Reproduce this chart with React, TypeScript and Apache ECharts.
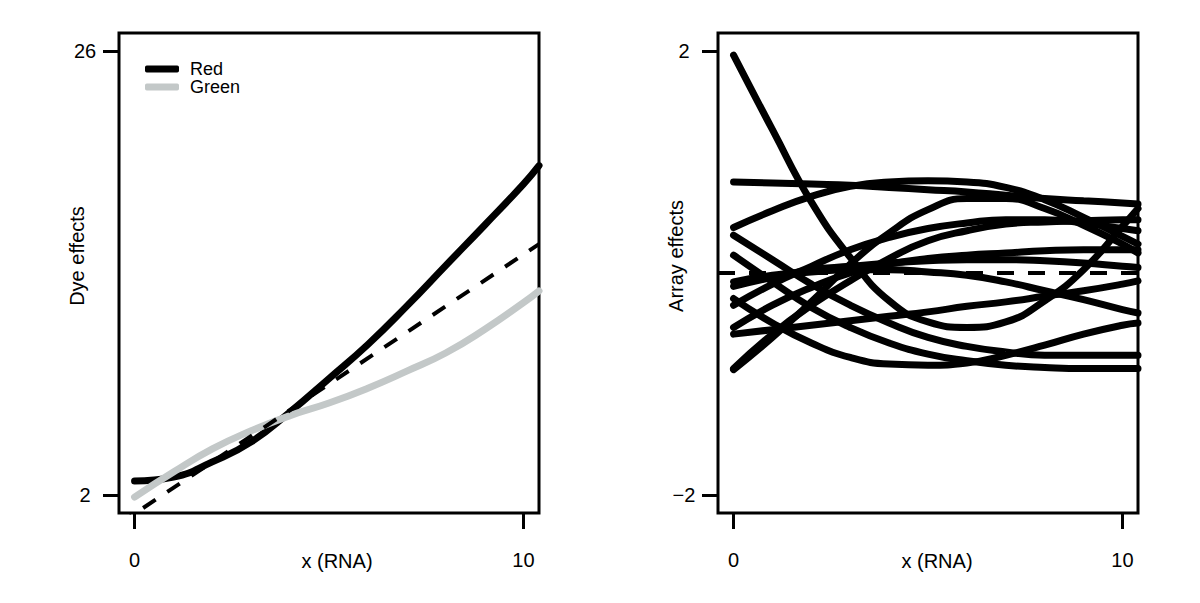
import React, { useEffect, useRef } from "react";
import * as echarts from "echarts";

// x positions where the curves were read (x = RNA)
const xPoints = [0, 1, 2, 3, 4, 5, 6, 7, 8, 9, 10, 10.4];

// Left panel: dye effects
const redValues = [2.77, 2.98, 3.8, 4.88, 6.5, 8.3, 10.14, 12.21, 14.4, 16.58, 18.8, 19.8];
const greenValues = [1.9, 3.25, 4.5, 5.48, 6.3, 6.98, 7.78, 8.7, 9.68, 10.95, 12.4, 13.03];
const dyeRefX = [-0.4, 10.4];
const dyeRefY = [0.44, 15.56];

// Right panel: array effects (one array per curve)
const arrayCurveA = [1.96, 1.29, 0.64, 0.14, -0.25, -0.44, -0.49, -0.44, -0.25, 0.03, 0.42, 0.58];
const arrayCurveB = [0.82, 0.81, 0.8, 0.79, 0.77, 0.75, 0.73, 0.7, 0.67, 0.65, 0.63, 0.62];
const arrayCurveC = [0.41, 0.56, 0.69, 0.78, 0.82, 0.83, 0.82, 0.77, 0.66, 0.5, 0.33, 0.26];
const arrayCurveD = [-0.87, -0.58, -0.26, 0.08, 0.36, 0.57, 0.67, 0.67, 0.58, 0.43, 0.26, 0.18];
const arrayCurveE = [-0.86, -0.55, -0.29, -0.07, 0.13, 0.29, 0.38, 0.44, 0.46, 0.47, 0.48, 0.48];
const arrayCurveF = [-0.49, -0.29, -0.13, 0.0, 0.08, 0.13, 0.16, 0.18, 0.2, 0.21, 0.21, 0.21];
const arrayCurveG = [0.34, 0.12, -0.1, -0.29, -0.45, -0.58, -0.66, -0.71, -0.74, -0.74, -0.74, -0.74];
const arrayCurveH = [0.16, -0.08, -0.31, -0.49, -0.63, -0.73, -0.79, -0.83, -0.85, -0.86, -0.86, -0.86];
const arrayCurveI = [-0.23, -0.45, -0.63, -0.76, -0.82, -0.83, -0.81, -0.74, -0.65, -0.55, -0.47, -0.45];
const arrayCurveJ = [-0.55, -0.51, -0.47, -0.43, -0.39, -0.35, -0.3, -0.26, -0.21, -0.16, -0.1, -0.07];
const arrayCurveK = [-0.08, -0.02, 0.01, 0.03, 0.03, 0.01, -0.02, -0.08, -0.16, -0.24, -0.33, -0.36];
const arrayCurveL = [-0.12, -0.04, 0.03, 0.06, 0.09, 0.11, 0.12, 0.12, 0.11, 0.09, 0.06, 0.05];
const arrayCurveM = [-0.29, -0.1, 0.06, 0.21, 0.32, 0.4, 0.45, 0.48, 0.48, 0.45, 0.4, 0.38];
const arrayCurves = [
  arrayCurveA, arrayCurveB, arrayCurveC, arrayCurveD, arrayCurveE, arrayCurveF, arrayCurveG,
  arrayCurveH, arrayCurveI, arrayCurveJ, arrayCurveK, arrayCurveL, arrayCurveM,
];
const arrayRefX = [-0.4, 10.4];
const arrayRefY = [0, 0];

// ticks
const xTicks = [0, 10];
const dyeTicks = [2, 26];
const arrayTicks = [-2, 2];

const FONT = "'Liberation Sans', Arial, Helvetica, sans-serif";
const FS = 20;
const LEGEND_FS = 18;
const GREEN = "#c3c8c8";
const LW = 7;

const zip = (xs: number[], ys: number[]) => xs.map((x, i) => [x, ys[i]]);
const fmt = (v: number) => (v < 0 ? "\u2212" + Math.abs(v) : String(v));

function xAxisFor(gridIndex: number) {
  return {
    type: "value",
    gridIndex,
    min: -0.4,
    max: 10.4,
    axisLine: { show: false, onZero: false },
    splitLine: { show: false },
    axisTick: { show: true, customValues: xTicks, length: 16, lineStyle: { color: "#000", width: 3 } },
    axisLabel: {
      show: true,
      customValues: xTicks,
      formatter: fmt,
      margin: 37,
      color: "#000",
      fontSize: FS,
      fontFamily: FONT,
    },
  };
}

function yAxisFor(gridIndex: number, min: number, max: number, ticks: number[]) {
  return {
    type: "value",
    gridIndex,
    min,
    max,
    axisLine: { show: false, onZero: false },
    splitLine: { show: false },
    axisTick: { show: true, customValues: ticks, length: 16, lineStyle: { color: "#000", width: 3 } },
    axisLabel: {
      show: true,
      customValues: ticks,
      formatter: fmt,
      margin: 34,
      align: "center",
      color: "#000",
      fontSize: FS,
      fontFamily: FONT,
    },
  };
}

export default function App() {
  const ref = useRef<HTMLDivElement>(null);
  useEffect(() => {
    if (!ref.current) return;
    document.body.style.margin = "0";
    const chart = echarts.init(ref.current, null, { renderer: "svg" });
    const lineBase = {
      type: "line",
      showSymbol: false,
      smooth: true,
      silent: true,
      clip: true,
      emphasis: { disabled: true },
    };
    const series: any[] = [
      {
        ...lineBase,
        name: "Red",
        xAxisIndex: 0,
        yAxisIndex: 0,
        color: "#000",
        data: zip(xPoints, redValues),
        lineStyle: { color: "#000", width: LW, cap: "round" },
        z: 3,
      },
      {
        ...lineBase,
        name: "Green",
        xAxisIndex: 0,
        yAxisIndex: 0,
        color: GREEN,
        data: zip(xPoints, greenValues),
        lineStyle: { color: GREEN, width: LW, cap: "round" },
        z: 4,
      },
      {
        ...lineBase,
        name: "Dye reference",
        smooth: false,
        xAxisIndex: 0,
        yAxisIndex: 0,
        color: "#000",
        data: zip(dyeRefX, dyeRefY),
        lineStyle: { color: "#000", width: 4, type: [15, 14], cap: "butt" },
        z: 5,
      },
      ...arrayCurves.map((c, i) => ({
        ...lineBase,
        name: "Array " + (i + 1),
        xAxisIndex: 1,
        yAxisIndex: 1,
        color: "#000",
        data: zip(xPoints, c),
        lineStyle: { color: "#000", width: LW, cap: "round" },
        z: 3,
      })),
      {
        ...lineBase,
        name: "Array reference",
        smooth: false,
        xAxisIndex: 1,
        yAxisIndex: 1,
        color: "#000",
        data: zip(arrayRefX, arrayRefY),
        lineStyle: { color: "#000", width: 4, type: [17, 14], cap: "butt" },
        z: 2,
      },
    ];

    const titleText = (text: string, x: number, y: number, rotation = 0) => ({
      type: "text",
      x,
      y,
      rotation,
      silent: true,
      style: {
        text,
        fill: "#000",
        fontSize: FS,
        fontFamily: FONT,
        align: "center",
        verticalAlign: "middle",
      },
    });

    chart.setOption({
      animation: false,
      backgroundColor: "#fff",
      grid: [
        { left: 119, top: 33, width: 420, height: 480, show: true, borderColor: "#000", borderWidth: 3, backgroundColor: "transparent" },
        { left: 718, top: 33, width: 420, height: 480, show: true, borderColor: "#000", borderWidth: 3, backgroundColor: "transparent" },
      ],
      xAxis: [xAxisFor(0), xAxisFor(1)],
      yAxis: [yAxisFor(0, 1.04, 26.96, dyeTicks), yAxisFor(1, -2.16, 2.16, arrayTicks)],
      legend: {
        data: ["Red", "Green"],
        orient: "vertical",
        left: 145,
        top: 60,
        padding: 0,
        itemWidth: 34,
        itemHeight: 7,
        itemGap: 0,
        icon: "roundRect",
        selectedMode: false,
        textStyle: { color: "#000", fontSize: LEGEND_FS, fontFamily: FONT, padding: [0, 0, 0, 6] },
      },
      graphic: [
        titleText("x (RNA)", 337, 561),
        titleText("Dye effects", 77, 256, Math.PI / 2),
        titleText("x (RNA)", 937, 561),
        titleText("Array effects", 676, 256, Math.PI / 2),
      ],
      series,
    });
    return () => chart.dispose();
  }, []);
  return <div ref={ref} style={{ width: 1200, height: 603 }} />;
}
